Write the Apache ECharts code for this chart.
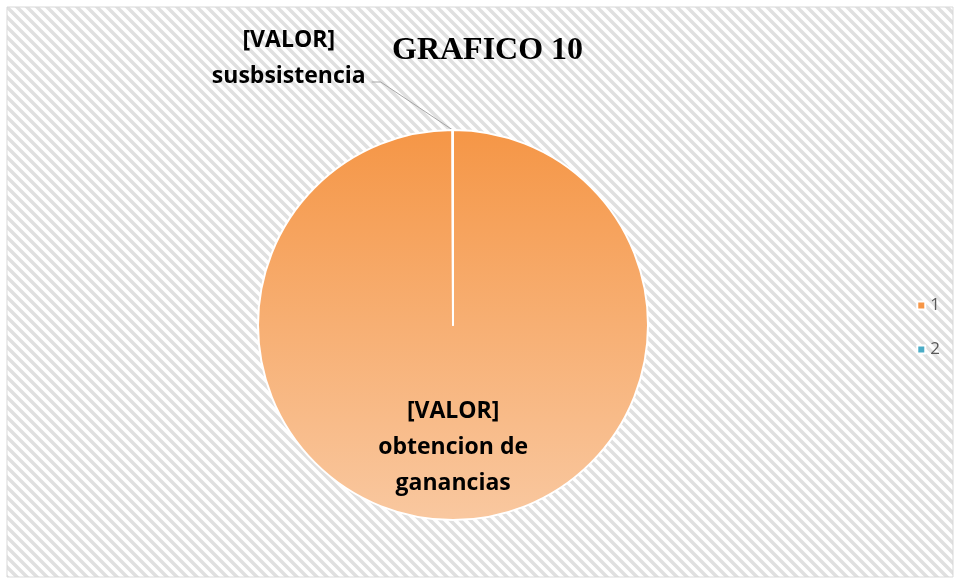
<!DOCTYPE html>
<html>
<head>
<meta charset="utf-8">
<script src="https://cdn.jsdelivr.net/npm/echarts@6/dist/echarts.min.js"></script>
<style>
  html, body { margin: 0; padding: 0; background: #fff; }
  #chart { width: 959px; height: 580px; }
</style>
</head>
<body>
<div id="chart"></div>
<script>
// datos
var categorias = ['1', '2'];
var valores = [100, 0.05];
var etiquetas = ['[VALOR]\nobtencion de\nganancias', '[VALOR]\nsusbsistencia'];
var colores = ['#f79646', '#4bacc6'];

// trama diagonal del fondo
var tile = document.createElement('canvas');
tile.width = 10; tile.height = 10;
var ctx = tile.getContext('2d');
ctx.fillStyle = '#ffffff';
ctx.fillRect(0, 0, 10, 10);
ctx.strokeStyle = '#e0e0e0';
ctx.lineWidth = 3.5;
ctx.beginPath();
ctx.moveTo(-5, -5); ctx.lineTo(15, 15);
ctx.moveTo(-15, -5); ctx.lineTo(5, 15);
ctx.moveTo(5, -5); ctx.lineTo(25, 15);
ctx.stroke();

var myChart = echarts.init(document.getElementById('chart'));

var datos = [];
for (var i = 0; i < categorias.length; i++) {
    datos.push({
        name: categorias[i],
        value: valores[i],
        itemStyle: {
            color: i === 0
                ? new echarts.graphic.LinearGradient(0, 0, 0, 1, [
                    {offset: 0, color: '#f59646'},
                    {offset: 1, color: '#f9c8a0'}
                ])
                : new echarts.graphic.LinearGradient(0, 0, 0, 1, [
                    {offset: 0, color: '#4bacc6'},
                    {offset: 1, color: '#a5d5e2'}
                ])
        },
        label: {
            formatter: etiquetas[i],
            position: i === 0 ? 'inside' : 'outside'
        },
        labelLine: { show: i !== 0 }
    });
}

var option = {
    backgroundColor: '#fff',
    animation: false,
    graphic: [{
        type: 'rect',
        z: -10,
        shape: { x: 7, y: 7, width: 946, height: 570 },
        style: {
            fill: { image: tile, repeat: 'repeat' },
            stroke: '#d9d9d9',
            lineWidth: 1
        }
    }],
    title: {
        text: 'GRAFICO 10',
        left: 387,
        top: 30,
        textStyle: {
            fontFamily: 'Liberation Serif',
            fontWeight: 'bold',
            fontSize: 32,
            color: '#000'
        }
    },
    legend: {
        orient: 'vertical',
        right: 14,
        top: 292,
        itemWidth: 8,
        itemHeight: 8,
        itemGap: 27,
        icon: 'rect',
        data: categorias.map(function (c, i) {
            return { name: c, itemStyle: { color: colores[i] } };
        }),
        textStyle: {
            fontFamily: 'Open Sans',
            fontSize: 17,
            color: '#595959'
        }
    },
    series: [{
        type: 'pie',
        center: [453, 325],
        radius: 195,
        startAngle: 90,
        clockwise: true,
        avoidLabelOverlap: false,
        itemStyle: {
            borderColor: '#fff',
            borderWidth: 2
        },
        label: {
            color: '#000',
            fontFamily: 'Open Sans',
            fontWeight: 'bold',
            fontSize: 23,
            lineHeight: 36,
            align: 'center'
        },
        labelLine: {
            lineStyle: { color: '#a6a6a6', width: 1 }
        },
        labelLayout: function (params) {
            if (params.dataIndex === 0) {
                return { dy: 22 };
            }
            var p0 = params.labelLinePoints[0];
            var p1 = [p0[0] - 72, p0[1] - 48];
            var p2 = [p1[0] - 9, p1[1]];
            return {
                x: p2[0] - 6 - params.labelRect.width / 2,
                y: p2[1] - 24,
                align: 'center',
                verticalAlign: 'middle',
                labelLinePoints: [p0, p1, p2]
            };
        },
        data: datos
    }]
};

myChart.setOption(option);
</script>
</body>
</html>
